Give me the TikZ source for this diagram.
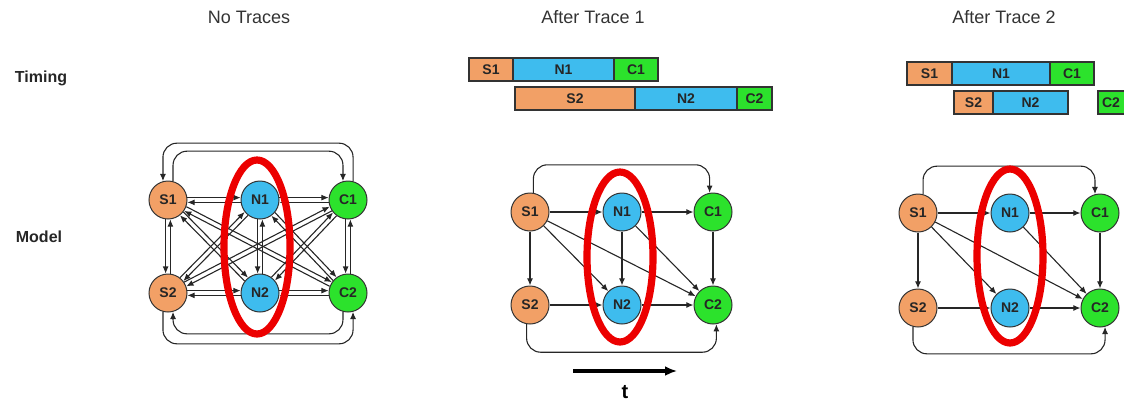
\documentclass[tikz,border=0pt]{standalone}
\usepackage{fontspec}
\setmainfont{Liberation Sans}
\usetikzlibrary{arrows.meta}
\definecolor{orng}{RGB}{242,160,102}
\definecolor{blu}{RGB}{62,188,238}
\definecolor{grn}{RGB}{44,226,44}
\definecolor{ringred}{RGB}{236,0,0}

\begin{document}
\begin{tikzpicture}[x=0.5pt,y=-0.5pt,>={Latex[length=3.6pt,width=3pt]},
  unit/.style={circle,draw=black!80,line width=0.5pt,minimum size=19pt,inner sep=0pt,
    text=black!85,font=\bfseries\fontsize{7}{8}\selectfont},
  snode/.style={unit,fill=orng},
  nnode/.style={unit,fill=blu},
  cnode/.style={unit,fill=grn},
  bar/.style={draw=black!80,line width=0.6pt,text=black!85,font=\bfseries\fontsize{7}{8}\selectfont},
  arr/.style={->,line width=0.55pt,draw=black!85},
  ring/.style={draw=ringred,line width=3.6pt},
  title/.style={text=black!80,font=\fontsize{9}{10}\selectfont},
  rowname/.style={text=black!85,font=\bfseries\fontsize{8}{9}\selectfont}]
\useasboundingbox (0,0) rectangle (1124,402);

\node[title] (h1) at (249,17) {No Traces};
\node[title] (h2) at (593,17) {After Trace 1};
\node[title] (h3) at (1004,17) {After Trace 2};
\node[rowname] (timing) at (41,78) {Timing};
\node[rowname] (model) at (39,237) {Model};

% timing bars
\draw[bar,fill=orng] (469,58) rectangle node (t1s1) {S1} (513,81);
\draw[bar,fill=blu] (513,58) rectangle node (t1n1) {N1} (614,81);
\draw[bar,fill=grn] (614,58) rectangle node (t1c1) {C1} (658,81);
\draw[bar,fill=orng] (515,87) rectangle node (t1s2) {S2} (635,110);
\draw[bar,fill=blu] (635,87) rectangle node (t1n2) {N2} (737,110);
\draw[bar,fill=grn] (737,87) rectangle node (t1c2) {C2} (772,110);

\draw[bar,fill=orng] (907,62) rectangle node (t2s1) {S1} (952,85);
\draw[bar,fill=blu] (952,62) rectangle node (t2n1) {N1} (1050,85);
\draw[bar,fill=grn] (1050,62) rectangle node (t2c1) {C1} (1094,85);
\draw[bar,fill=orng] (954,91) rectangle node (t2s2) {S2} (993,114);
\draw[bar,fill=blu] (993,91) rectangle node (t2n2) {N2} (1068,114);
\draw[bar,fill=grn] (1098,91) rectangle (1140,114);
\node[bar,draw=none] (t2c2) at (1111,102.5) {C2};

% no traces: every pair linked both ways
\node[snode] (as1) at (168,200) {S1};
\node[nnode] (an1) at (260,200) {N1};
\node[cnode] (ac1) at (348,200) {C1};
\node[snode] (as2) at (168,293) {S2};
\node[nnode] (an2) at (260,293) {N2};
\node[cnode] (ac2) at (348,293) {C2};
\draw[arr] (as1.7) -- (an1.173);
\draw[arr] (an1.187) -- (as1.353);
\draw[arr] (an1.7) -- (ac1.173);
\draw[arr] (ac1.187) -- (an1.353);
\draw[arr] (as2.7) -- (an2.173);
\draw[arr] (an2.187) -- (as2.353);
\draw[arr] (an2.7) -- (ac2.173);
\draw[arr] (ac2.187) -- (an2.353);
\draw[arr] (as1.263) -- (as2.97);
\draw[arr] (as2.83) -- (as1.277);
\draw[arr] (an1.263) -- (an2.97);
\draw[arr] (an2.83) -- (an1.277);
\draw[arr] (ac1.263) -- (ac2.97);
\draw[arr] (ac2.83) -- (ac1.277);
\draw[arr] (as1.322) -- (an2.128);
\draw[arr] (an2.142) -- (as1.308);
\draw[arr] (as1.340) -- (ac2.146);
\draw[arr] (ac2.160) -- (as1.326);
\draw[arr] (as2.52) -- (an1.218);
\draw[arr] (an1.232) -- (as2.38);
\draw[arr] (as2.34) -- (ac1.200);
\draw[arr] (ac1.214) -- (as2.20);
\draw[arr] (an1.320) -- (ac2.126);
\draw[arr] (ac2.140) -- (an1.306);
\draw[arr] (an2.54) -- (ac1.220);
\draw[arr] (ac1.234) -- (an2.40);
\draw[arr,rounded corners=7pt] (as1.75) -- ++(0,-30) -| (ac1.105);
\draw[arr,rounded corners=7pt] (ac1.75) -- ++(0,-38) -| (as1.105);
\draw[arr,rounded corners=7pt] (as2.255) -- ++(0,32) -| (ac2.285);
\draw[arr,rounded corners=7pt] (ac2.255) -- ++(0,22) -| (as2.285);
\draw[ring] (257,247) ellipse [x radius=16.5pt,y radius=43.5pt];

% after trace 1
\node[snode] (bs1) at (530,212) {S1};
\node[nnode] (bn1) at (622,212) {N1};
\node[cnode] (bc1) at (713,212) {C1};
\node[snode] (bs2) at (530,305) {S2};
\node[nnode] (bn2) at (622,305) {N2};
\node[cnode] (bc2) at (713,305) {C2};
\draw[arr] (bs1) -- (bn1);
\draw[arr] (bn1) -- (bc1);
\draw[arr] (bs2) -- (bn2);
\draw[arr] (bn2) -- (bc2);
\draw[arr] (bs1) -- (bs2);
\draw[arr] (bn1) -- (bn2);
\draw[arr] (bc1) -- (bc2);
\draw[arr] (bs1) -- (bn2);
\draw[arr] (bs1) -- (bc2);
\draw[arr] (bn1) -- (bc2);
\draw[arr,rounded corners=7pt] (bs1.80) -- ++(0,-28) -| (bc1.100);
\draw[arr,rounded corners=7pt] (bs2.260) -- ++(0,28) -| (bc2.280);
\draw[ring] (620,257) ellipse [x radius=16.5pt,y radius=42.5pt];

\coordinate (tstart) at (573,371);
\coordinate (tend) at (677,371);
\draw[line width=1.6pt,-{Latex[length=6pt,width=5pt]}] (tstart) -- (tend);
\node[font=\bfseries\fontsize{10}{12}\selectfont] (tlabel) at (625,392) {t};

% after trace 2
\node[snode] (cs1) at (918,213) {S1};
\node[nnode] (cn1) at (1010,213) {N1};
\node[cnode] (cc1) at (1100,213) {C1};
\node[snode] (cs2) at (918,308) {S2};
\node[nnode] (cn2) at (1010,308) {N2};
\node[cnode] (cc2) at (1100,308) {C2};
\draw[arr] (cs1) -- (cn1);
\draw[arr] (cn1) -- (cc1);
\draw[arr] (cs2) -- (cn2);
\draw[arr] (cn2) -- (cc2);
\draw[arr] (cs1) -- (cs2);
\draw[arr] (cc1) -- (cc2);
\draw[arr] (cs1) -- (cn2);
\draw[arr] (cs1) -- (cc2);
\draw[arr] (cn1) -- (cc2);
\draw[arr,rounded corners=7pt] (cs1.75) -- ++(0,-28) -| (cc1.105);
\draw[arr,rounded corners=7pt] (cs2.255) -- ++(0,27) -| (cc2.285);
\draw[ring] (1010,256) ellipse [x radius=16.5pt,y radius=43.5pt];
\end{tikzpicture}
\end{document}
